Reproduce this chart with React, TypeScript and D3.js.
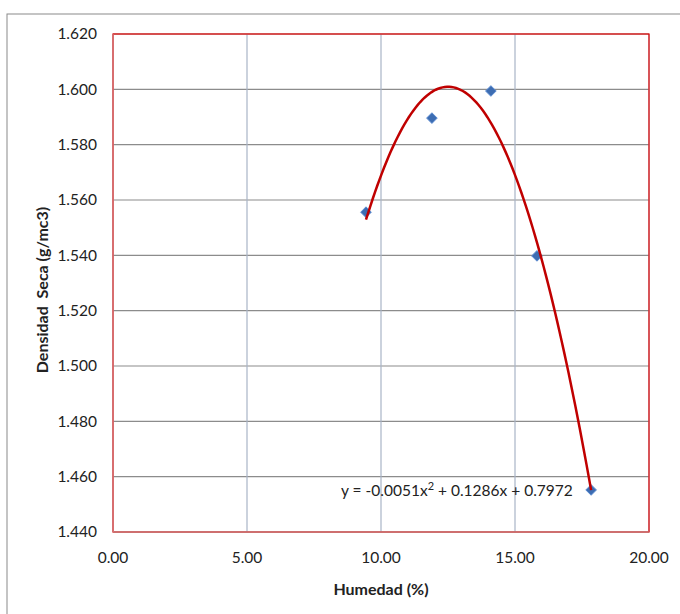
import React from "react";
import * as d3 from "d3";

const humedad = [9.44, 11.9, 14.1, 15.82, 17.84];
const densidad = [1.5556, 1.5896, 1.5994, 1.5398, 1.4552];
const xTicks = [0, 5, 10, 15, 20];
const yTicks = [1.44, 1.46, 1.48, 1.5, 1.52, 1.54, 1.56, 1.58, 1.6, 1.62];
const equationText = ["y = -0.0051x", "2", " + 0.1286x + 0.7972"];

function fitQuadratic(xs: number[], ys: number[]) {
  const n = xs.length;
  const s = [0, 0, 0, 0, 0];
  const t = [0, 0, 0];
  for (let i = 0; i < n; i++) {
    const xv = xs[i], yv = ys[i];
    for (let k = 0; k <= 4; k++) s[k] += Math.pow(xv, k);
    for (let k = 0; k <= 2; k++) t[k] += Math.pow(xv, k) * yv;
  }
  const M = [
    [s[4], s[3], s[2], t[2]],
    [s[3], s[2], s[1], t[1]],
    [s[2], s[1], s[0], t[0]],
  ];
  for (let i = 0; i < 3; i++) {
    let p = i;
    for (let r = i + 1; r < 3; r++) if (Math.abs(M[r][i]) > Math.abs(M[p][i])) p = r;
    [M[i], M[p]] = [M[p], M[i]];
    for (let r = 0; r < 3; r++) {
      if (r === i) continue;
      const f = M[r][i] / M[i][i];
      for (let c = i; c < 4; c++) M[r][c] -= f * M[i][c];
    }
  }
  return [M[0][3] / M[0][0], M[1][3] / M[1][1], M[2][3] / M[2][2]];
}

export default function App() {
  const W = 680, H = 614;
  const left = 113, right = 649, top = 34, bottom = 532;
  const x = d3.scaleLinear().domain([0, 20]).range([left, right]);
  const y = d3.scaleLinear().domain([1.44, 1.62]).range([bottom, top]);
  const [a, b, c] = fitQuadratic(humedad, densidad);
  const x0 = d3.min(humedad)!, x1 = d3.max(humedad)!;
  const curvePts = d3.range(0, 101).map((i) => {
    const xv = x0 + ((x1 - x0) * i) / 100;
    return [xv, a * xv * xv + b * xv + c] as [number, number];
  });
  const line = d3.line<[number, number]>().x((d) => x(d[0])).y((d) => y(d[1]));
  const font = "Lato, 'Open Sans', sans-serif";
  const diamond = d3.symbol().type(d3.symbolDiamond2).size(72)();
  return (
    <svg width={W} height={H} style={{ position: "absolute", left: 0, top: 0, display: "block" }}>
      <rect x={0} y={0} width={W} height={H} fill="#fff" />
      <rect x={7} y={14} width={W} height={H} fill="#fff" stroke="#8a8a8a" strokeWidth={1} />
      {yTicks.map((t) => (
        <line key={"h" + t} x1={left} x2={right} y1={y(t)} y2={y(t)} stroke="#8c8c8c" strokeWidth={1.2} />
      ))}
      {xTicks.map((t) => (
        <line key={"v" + t} x1={x(t)} x2={x(t)} y1={top} y2={bottom} stroke="#a8b4c6" strokeWidth={1.2} />
      ))}
      <rect x={left} y={top} width={right - left} height={bottom - top} fill="none" stroke="#e00000" strokeWidth={1.2} />
      <line x1={left} x2={left} y1={top} y2={bottom} stroke="#d88080" strokeWidth={1.2} />
      <line x1={left} x2={right} y1={bottom} y2={bottom} stroke="#c89090" strokeWidth={1.2} />
      {yTicks.map((t) => (
        <text key={"yl" + t} x={97} y={y(t)} dy="0.35em" textAnchor="end" fontFamily={font} fontSize={15.5} fill="#222">
          {d3.format(".3f")(t)}
        </text>
      ))}
      {xTicks.map((t) => (
        <text key={"xl" + t} x={x(t)} y={558} dy="0.35em" textAnchor="middle" fontFamily={font} fontSize={15.5} fill="#222">
          {d3.format(".2f")(t)}
        </text>
      ))}
      <text x={381} y={589} dy="0.35em" textAnchor="middle" fontFamily={font} fontSize={16} fontWeight="bold" fill="#222">
        Humedad (%)
      </text>
      <text
        transform={`translate(42,290) rotate(-90)`}
        dy="0.35em"
        textAnchor="middle"
        fontFamily={font}
        fontSize={16}
        fontWeight="bold"
        fill="#222"
        style={{ whiteSpace: "pre" }}
      >
        Densidad  Seca (g/mc3)
      </text>
      {humedad.map((h, i) => (
        <path key={"m" + i} d={diamond!} transform={`translate(${x(h)},${y(densidad[i])})`} fill="#3d6db2" stroke="#5a8ad0" strokeWidth={1} />
      ))}
      <path d={line(curvePts)!} fill="none" stroke="#c00000" strokeWidth={2.5} />
      <text x={341} y={496} fontFamily={font} fontSize={15.5} fill="#222">
        {equationText[0]}
        <tspan dy={-6} fontSize={11}>{equationText[1]}</tspan>
        <tspan dy={6}>{equationText[2]}</tspan>
      </text>
    </svg>
  );
}
